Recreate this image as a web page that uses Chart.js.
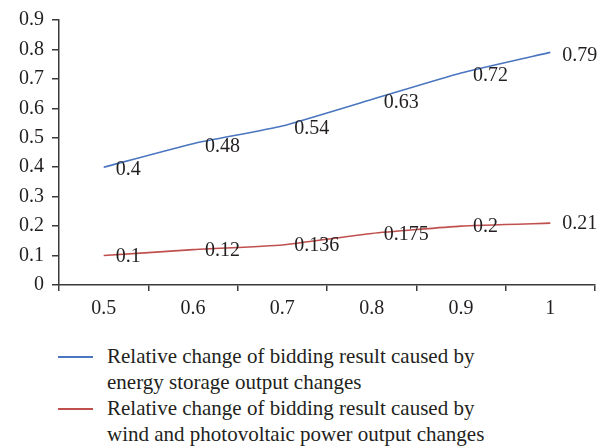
<!DOCTYPE html>
<html>
<head>
<meta charset="utf-8">
<script src="https://cdn.jsdelivr.net/npm/chart.js@4"></script>
<style>
  html, body { margin: 0; padding: 0; background: #fff; }
  #wrap { position: relative; width: 608px; height: 447px; }
  #plot { position: absolute; left: 0; top: 0; width: 608px; height: 330px; }
  #legend { position: absolute; left: 58px; top: 343px; font-family: "Liberation Serif", serif; font-size: 21px; color: #231f20; line-height: 26px; }
  .item { display: flex; align-items: flex-start; }
  .swatch { width: 35px; height: 0; border-top: 2px solid; margin-top: 13px; margin-right: 14px; flex: none; }
</style>
</head>
<body>
<div id="wrap">
  <div id="plot"><canvas id="c"></canvas></div>
  <div id="legend"></div>
</div>
<script>
const categories = ["0.5", "0.6", "0.7", "0.8", "0.9", "1"];
const storageValues = [0.4, 0.48, 0.54, 0.63, 0.72, 0.79];
const renewableValues = [0.1, 0.12, 0.136, 0.175, 0.2, 0.21];
const seriesNames = [
  ["Relative change of bidding result caused by", "energy storage output changes"],
  ["Relative change of bidding result caused by", "wind and photovoltaic power output changes"]
];
const yTicks = [0, 0.1, 0.2, 0.3, 0.4, 0.5, 0.6, 0.7, 0.8, 0.9];

const FONT = '"Liberation Serif", serif';
const TEXT = '#231f20';
const AXIS = '#3a3a3a';

// Value labels to the right of each point
const valueLabels = {
  id: 'valueLabels',
  afterDatasetsDraw(chart) {
    const ctx = chart.ctx;
    ctx.save();
    ctx.font = '20px ' + FONT;
    ctx.fillStyle = TEXT;
    ctx.textAlign = 'left';
    ctx.textBaseline = 'middle';
    chart.data.datasets.forEach((ds, i) => {
      const meta = chart.getDatasetMeta(i);
      meta.data.forEach((pt, j) => {
        ctx.fillText(String(ds.data[j]), pt.x + 12, pt.y + (ds.labelDy || 0));
      });
    });
    ctx.restore();
  }
};

const chart = new Chart(document.getElementById('c'), {
  type: 'line',
  data: {
    labels: categories,
    datasets: [
      { label: seriesNames[0].join(' '), data: storageValues, borderColor: '#4a76c0', borderWidth: 1.6, pointRadius: 0, tension: 0.15, fill: false, labelDy: 3 },
      { label: seriesNames[1].join(' '), data: renewableValues, borderColor: '#c0504d', borderWidth: 1.6, pointRadius: 0, tension: 0.15, fill: false, labelDy: 1 }
    ]
  },
  options: {
    responsive: true,
    maintainAspectRatio: false,
    animation: false,
    layout: { padding: { top: 18, right: 13, left: 0, bottom: 0 } },
    plugins: { legend: { display: false }, tooltip: { enabled: false } },
    scales: {
      x: {
        type: 'category',
        offset: true,
        grid: { display: true, offset: true, drawOnChartArea: false, drawTicks: true, tickLength: 6, color: AXIS, lineWidth: 1.5 },
        border: { display: true, color: AXIS, width: 1.5 },
        ticks: { font: { family: FONT, size: 20 }, color: TEXT, padding: 6, maxRotation: 0 },
        afterFit(scale) { scale.height = 45; }
      },
      y: {
        min: 0, max: 0.9,
        afterBuildTicks(scale) { scale.ticks = yTicks.map(v => ({ value: v })); },
        grid: { display: true, drawOnChartArea: false, drawTicks: true, tickLength: 7, color: AXIS, lineWidth: 1.5 },
        border: { display: true, color: AXIS, width: 1.5 },
        ticks: { font: { family: FONT, size: 20 }, color: TEXT, padding: 8, callback: v => String(v) },
        afterFit(scale) { scale.width = 59; }
      }
    }
  },
  plugins: [valueLabels]
});

// Legend built from the dataset colours and names
const legend = document.getElementById('legend');
chart.data.datasets.forEach((ds, i) => {
  const item = document.createElement('div');
  item.className = 'item';
  const sw = document.createElement('span');
  sw.className = 'swatch';
  sw.style.borderColor = ds.borderColor;
  const txt = document.createElement('div');
  seriesNames[i].forEach(line => {
    const d = document.createElement('div');
    d.textContent = line;
    txt.appendChild(d);
  });
  item.appendChild(sw);
  item.appendChild(txt);
  legend.appendChild(item);
});
</script>
</body>
</html>
